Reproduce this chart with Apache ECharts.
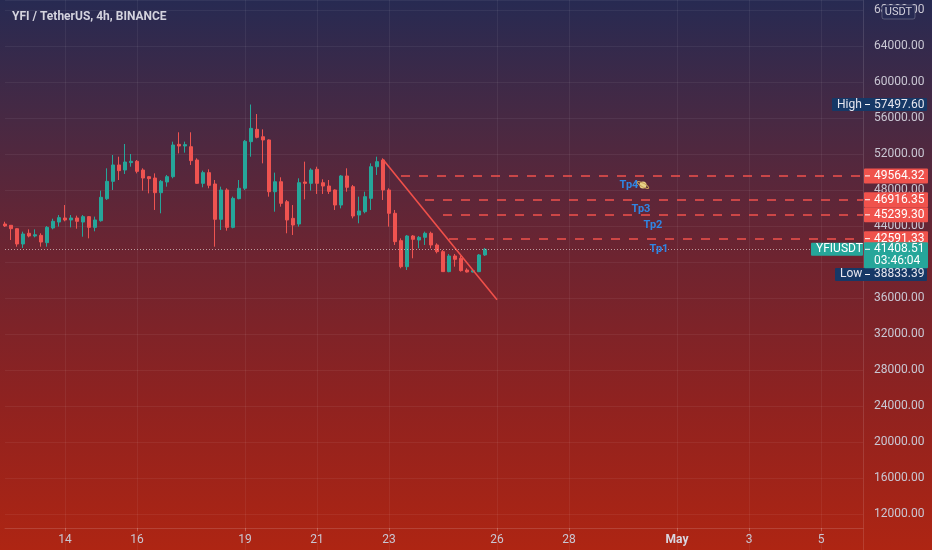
<!DOCTYPE html>
<html>
<head>
<meta charset="utf-8">
<script src="https://cdn.jsdelivr.net/npm/echarts@6/dist/echarts.min.js"></script>
<style>
html, body { margin: 0; padding: 0; }
#main {
  width: 932px; height: 550px;
  background: linear-gradient(to bottom, #272a52 0%, #482943 22%, #6e2430 47%, #8f2220 73%, #ae2513 100%);
}
</style>
</head>
<body>
<div id="main"></div>
<script>
// 4h candles, first slot = Apr 12 08:00
var opens = [44222, 44078, 43700, 42000, 43190, 42890, 42960, 42150, 43780, 44440,
  44890, 44670, 44890, 44440, 45040, 43850, 44590, 47030, 48960, 50780,
  50220, 51040, 51190, 50220, 49480, 49330, 47700, 48890, 49480, 53070,
  52890, 52810, 51330, 48740, 49930, 48670, 44740, 48000, 43850, 47040,
  48190, 53370, 54740, 53920, 53560, 47810, 48920, 46700, 44850, 44220,
  48890, 48740, 50300, 48810, 48440, 48000, 46330, 49560, 48370, 45220,
  45590, 47070, 50590, 51330, 48000, 45410, 42370, 39480, 42890, 42440,
  42740, 43190, 41890, 41150, 38930, 40670, 40410, 39110, 38890, 38930, 40780];
var closes = [44000, 43700, 42000, 43111, 42890, 43030, 42220, 43850, 44520, 44930,
  44670, 44890, 44520, 45040, 43850, 44670, 47190, 48960, 50780, 50150,
  51110, 51190, 50070, 49330, 49260, 47700, 48960, 49480, 53000, 52890,
  53040, 51260, 48740, 49930, 48520, 44740, 48000, 43850, 47070, 48190,
  53410, 54850, 53850, 53560, 47810, 48920, 46520, 44670, 44110, 48810,
  48740, 50220, 48740, 48440, 47850, 46330, 49560, 48300, 45110, 45670,
  47260, 50590, 51150, 48000, 45410, 42260, 39480, 42890, 42520, 42740,
  43190, 41890, 41150, 38930, 40670, 40300, 39040, 38890, 39040, 40780, 41408.51];
var lows = [43889, 42444, 41700, 41556, 42740, 42740, 41700, 41700, 43630, 43930,
  44520, 43850, 43700, 42810, 42630, 43410, 44480, 46890, 48000, 49110,
  49780, 50590, 49850, 47930, 47630, 45780, 45410, 48370, 49300, 52070,
  52150, 50780, 48670, 48300, 48190, 41700, 43560, 43480, 43740, 46960,
  48000, 51700, 53740, 50960, 47260, 45590, 46150, 43190, 43000, 43930,
  46960, 47930, 47560, 47560, 47560, 45780, 45960, 47810, 44850, 44300,
  45410, 45780, 49670, 46890, 43930, 41890, 39300, 39110, 40410, 41520,
  41890, 41520, 40960, 38900, 38860, 39480, 38930, 38833.39, 38850, 38870, 40670];
var highs = [44478, 44111, 43750, 43370, 43630, 43630, 43190, 44000, 44810, 45220,
  46330, 45220, 45150, 45220, 45110, 45040, 47930, 50410, 51890, 51700,
  53110, 52000, 51330, 50410, 49560, 49850, 49110, 49670, 53370, 54410,
  53370, 54410, 51520, 50150, 50300, 49110, 48370, 48190, 47260, 49110,
  53560, 57497.60, 56440, 54740, 53630, 49930, 49410, 46890, 46330, 49300,
  51150, 50410, 50590, 49190, 49110, 48070, 49670, 50410, 48560, 47260,
  47810, 50960, 51700, 51520, 48190, 45780, 42630, 43000, 43000, 42890,
  43370, 43370, 42070, 41330, 40890, 40890, 40670, 39300, 39110, 40890, 41560];

var slotCount = 144;
var tickDays = ['04-14', '04-16', '04-19', '04-21', '04-23', '04-26', '04-28', '05-01', '05-03', '05-05'];
var tickLabels = ['14', '16', '19', '21', '23', '26', '28', 'May', '3', '5'];

var targetPrices = [49564.32, 46916.35, 45239.30, 42591.33];
var targetStart = [66, 70, 73, 74];
var tpNames = ['Tp4', 'Tp3', 'Tp2', 'Tp1'];
var tpIdx = [104, 106, 108, 109];
var tpVals = [48556, 45889, 44111, 41444];

var trendIdx = [63, 82];
var trendVals = [51400, 35800];

var highPrice = 57497.60, lowPrice = 38833.39, lastPrice = 41408.51;
var countdown = '03:46:04';

var slots = [];
var t0 = Date.UTC(2021, 3, 12, 8);
for (var i = 0; i < slotCount; i++) {
  var d = new Date(t0 + i * 4 * 3600 * 1000);
  var mm = ('0' + (d.getUTCMonth() + 1)).slice(-2);
  var dd = ('0' + d.getUTCDate()).slice(-2);
  var hh = ('0' + d.getUTCHours()).slice(-2);
  slots.push(mm + '-' + dd + ' ' + hh + ':00');
}
function isTick(idx, val) {
  return val.slice(6) === '00:00' && tickDays.indexOf(val.slice(0, 5)) >= 0;
}
function labelFor(val) {
  var k = tickDays.indexOf(val.slice(0, 5));
  if (k < 0) return '';
  return tickLabels[k] === 'May' ? '{b|May}' : tickLabels[k];
}

var candles = opens.map(function (o, i) { return [o, closes[i], lows[i], highs[i]]; });

var chart = echarts.init(document.getElementById('main'));
var font = 'Roboto, sans-serif';
var txt = '#c9c7d3';
var grid = 'rgba(255,255,255,0.06)';

var lineData = targetPrices.map(function (p, k) {
  return [
    { coord: [targetStart[k], p], lineStyle: { color: '#f0524c', width: 1.5, type: [9, 9] } },
    { coord: [slotCount - 1, p] }
  ];
});
lineData.push([
  { coord: [0, lastPrice], lineStyle: { color: 'rgba(220,205,205,0.7)', width: 1, type: [1, 2] } },
  { coord: [slotCount - 1, lastPrice] }
]);

option = {
  animation: false,
  backgroundColor: 'transparent',
  textStyle: { fontFamily: font },
  title: {
    text: 'YFI / TetherUS, 4h, BINANCE',
    left: 7, top: 6,
    textStyle: { color: '#d4d3de', fontSize: 12, fontWeight: 'bold', fontFamily: font }
  },
  grid: { left: 5, right: 69, top: 0, bottom: 0 },
  xAxis: {
    type: 'category',
    data: slots,
    boundaryGap: false,
    offset: -22,
    axisLine: { lineStyle: { color: 'rgba(255,255,255,0.14)' } },
    axisTick: { show: true, length: 3, interval: isTick, lineStyle: { color: 'rgba(255,255,255,0.2)' } },
    axisLabel: {
      interval: isTick, formatter: labelFor, color: txt, fontSize: 12, margin: 6, fontFamily: font,
      rich: { b: { fontWeight: 'bold', color: '#d8d6e0', fontSize: 12, fontFamily: font } }
    },
    splitLine: { show: true, interval: isTick, lineStyle: { color: grid } }
  },
  yAxis: {
    type: 'value',
    position: 'right',
    min: 8000, max: 69111, interval: 4000,
    axisLine: { show: true, lineStyle: { color: 'rgba(255,255,255,0.12)' } },
    axisTick: { show: false },
    axisLabel: {
      formatter: function (v) { return v.toFixed(2); },
      color: txt, fontSize: 12, margin: 11, fontFamily: font,
      showMinLabel: false, showMaxLabel: false
    },
    splitLine: { lineStyle: { color: grid } }
  },
  series: [
    {
      type: 'candlestick',
      data: candles,
      barWidth: 3,
      itemStyle: {
        color: '#26a69a', color0: '#ef5350',
        borderColor: '#26a69a', borderColor0: '#ef5350', borderWidth: 1
      },
      markLine: {
        silent: true,
        symbol: ['none', 'none'],
        label: { show: false },
        data: lineData
      }
    },
    {
      type: 'line',
      data: trendIdx.map(function (x, k) { return [x, trendVals[k]]; }),
      symbol: 'none',
      lineStyle: { color: '#f0504a', width: 1.6 }
    }
  ]
};
chart.setOption(option);

// price-scale tags and annotations
function py(v) { return chart.convertToPixel({ gridIndex: 0 }, [0, v])[1]; }
function tag(x, y, w, h, fill) {
  return { type: 'rect', z: 100, shape: { x: x, y: y, width: w, height: h, r: 1 }, style: { fill: fill } };
}
function label(text, x, y, color, size, weight, align) {
  return {
    type: 'text', z: 101,
    style: { text: text, x: x, y: y, fill: color, align: align || 'left', verticalAlign: 'middle',
      font: (weight || 'normal') + ' ' + (size || 12) + 'px ' + font }
  };
}
function tick(y) {
  return { type: 'line', z: 101, shape: { x1: 865, y1: y, x2: 870, y2: y }, style: { stroke: '#ffffff', lineWidth: 1 } };
}
var g = [];
targetPrices.forEach(function (p) {
  var y = py(p);
  g.push(tag(864, y - 7.5, 64, 15, '#f0524c'));
  g.push(tick(y));
  g.push(label(p.toFixed(2), 874, y + 0.5, '#ffffff'));
});
var yh = py(highPrice);
g.push(tag(832, yh - 6.5, 95, 13, '#163866'));
g.push(label('High', 837, yh, '#e6e6ee'));
g.push(tick(yh));
g.push(label(highPrice.toFixed(2), 874, yh, '#e6e6ee'));
var yl = py(lowPrice) + 2;
g.push(tag(835, yl - 6.5, 92, 13, '#163866'));
g.push(label('Low', 840, yl, '#e6e6ee'));
g.push(tick(yl));
g.push(label(lowPrice.toFixed(2), 874, yl, '#e6e6ee'));
var yp = py(lastPrice);
g.push(tag(811, yp - 6.5, 52, 13, '#26a69a'));
g.push(label('YFIUSDT', 816, yp, '#ffffff'));
g.push(tag(864, yp - 7, 64, 26, '#26a69a'));
g.push(tick(yp));
g.push(label(lastPrice.toFixed(2), 874, yp, '#ffffff'));
g.push(label(countdown, 874, yp + 12, '#ffffff'));
tpNames.forEach(function (n, k) {
  var p = chart.convertToPixel({ gridIndex: 0 }, [tpIdx[k], tpVals[k]]);
  g.push(label(n, p[0], p[1], '#2f86e4', 11, 'bold', 'center'));
});
var p4 = chart.convertToPixel({ gridIndex: 0 }, [tpIdx[0], tpVals[0]]);
g.push({ type: 'circle', z: 101, shape: { cx: p4[0] + 14, cy: p4[1], r: 3.5 }, style: { fill: '#e8d389' } });
g.push({ type: 'ellipse', z: 102, rotation: -0.5, x: p4[0] + 14, y: p4[1],
  shape: { cx: 0, cy: 0, rx: 6.5, ry: 1.8 }, style: { fill: 'none', stroke: '#c9a25a', lineWidth: 1 } });
g.push({ type: 'rect', z: 100, shape: { x: 882, y: 5, width: 33, height: 14, r: 2 },
  style: { fill: '#272a52', stroke: 'rgba(255,255,255,0.22)', lineWidth: 1 } });
g.push(label('USDT', 898.5, 12.5, '#d4d3de', 11, 'normal', 'center'));

chart.setOption({ graphic: { elements: g } });
</script>
</body>
</html>
